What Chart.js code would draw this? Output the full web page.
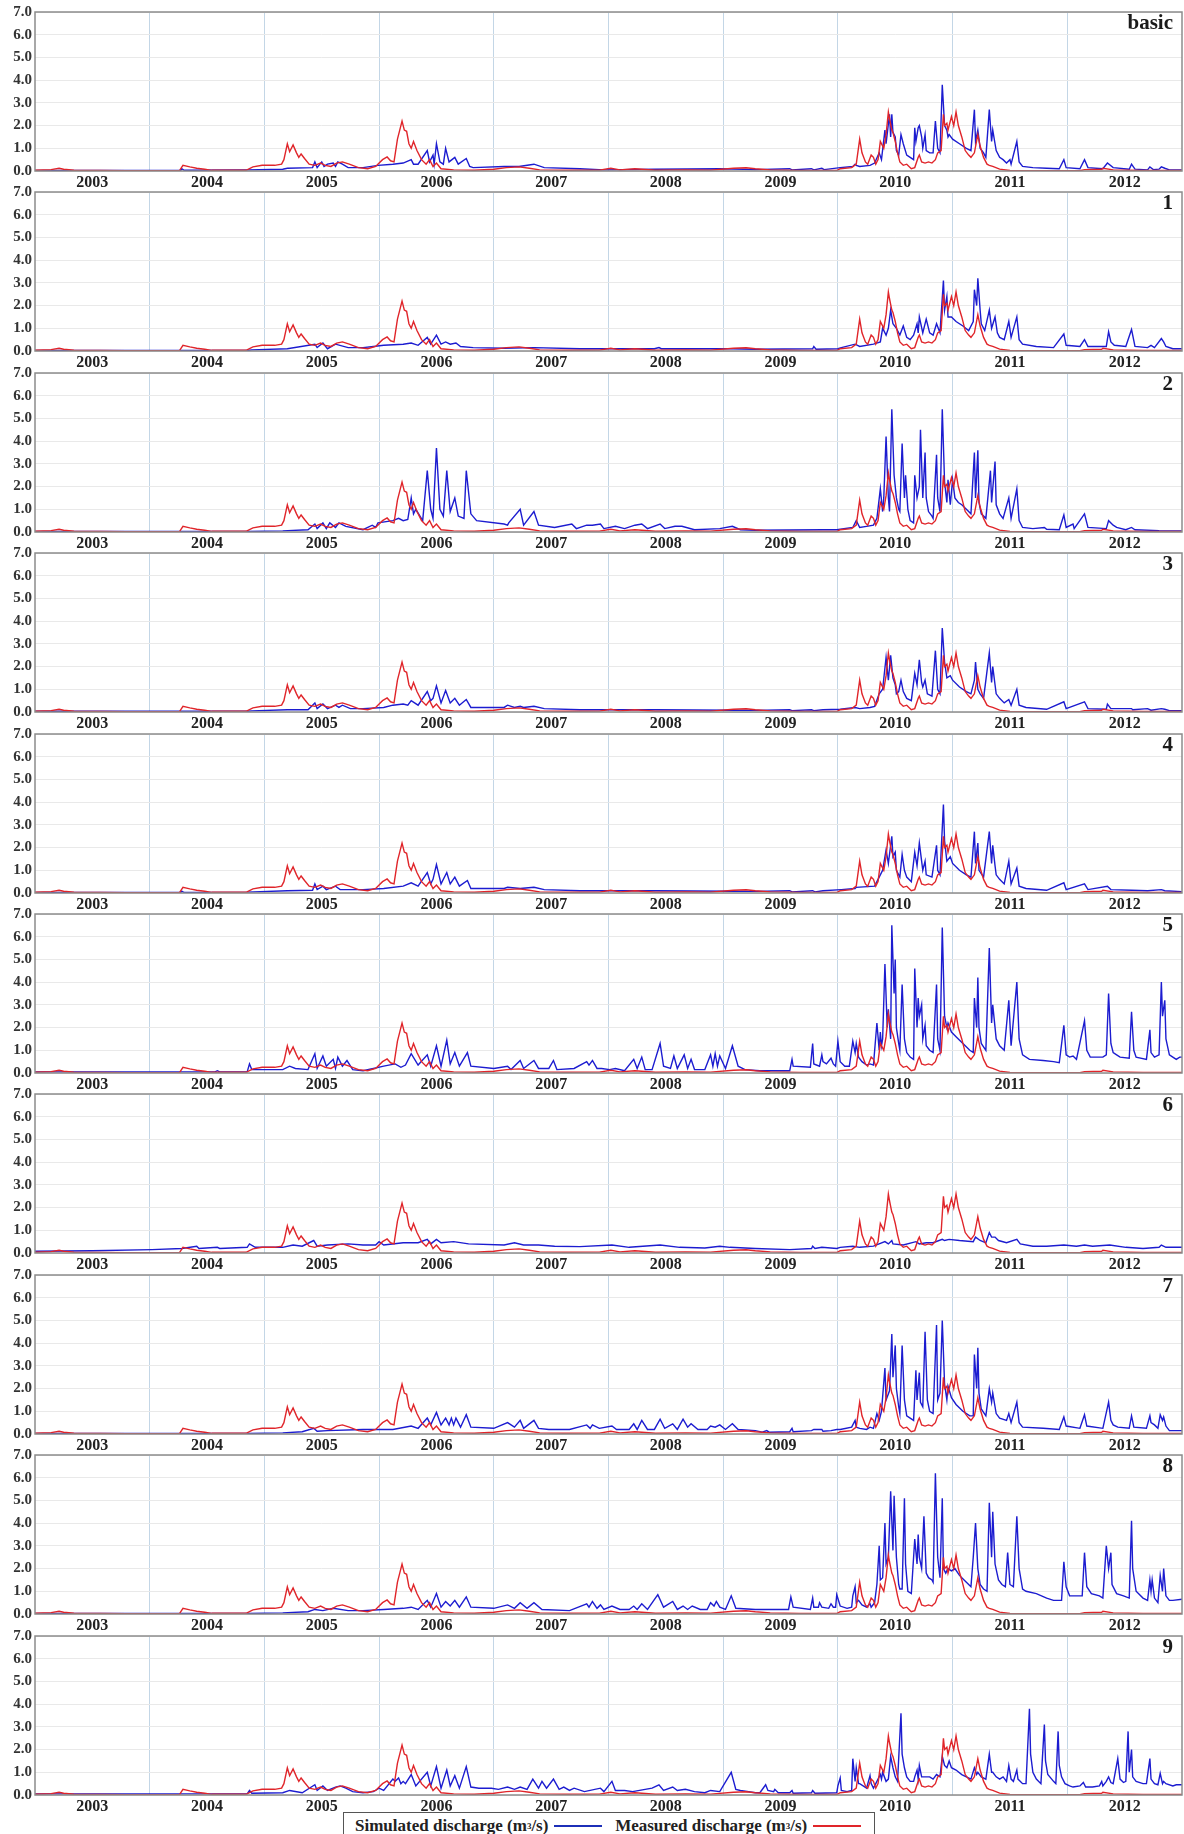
<!DOCTYPE html>
<html>
<head>
<meta charset="utf-8">
<script src="https://cdn.jsdelivr.net/npm/chart.js@4/dist/chart.umd.min.js"></script>
<style>
    body { margin: 0; background: #fff; width: 1184px; height: 1834px; position: relative; overflow: hidden; font-family: "Liberation Serif", "Times New Roman", serif; }
    .panel { position: absolute; left: 0; width: 1184px; height: 196px; }
    .legend { position: absolute; left: 343px; top: 1812px; width: 532px; height: 26px; border: 1.5px solid #555; border-bottom: none; box-sizing: border-box; background: #fff;
              font-weight: bold; font-size: 17px; line-height: 20px; color: #222; display: flex; align-items: center; padding-left: 11px; padding-top: 1px; white-space: nowrap; }
    .legend sup { font-size: 9px; line-height: 0; }
    .legend .ln { display: inline-block; width: 56px; height: 2px; margin: 0 13px 0 6px; }
</style>
</head>
<body>
<div id="panels"></div>
<div class="legend">
    Simulated discharge (m<sup>3</sup>/s)<span class="ln" style="background:#1c2fb8"></span>
    Measured discharge (m<sup>3</sup>/s)<span class="ln" style="background:#e0252a"></span>
</div>
<script>
const years = [2003, 2004, 2005, 2006, 2007, 2008, 2009, 2010, 2011, 2012];
const yTicks = [0, 1, 2, 3, 4, 5, 6, 7];
const panelNames = ['basic', '1', '2', '3', '4', '5', '6', '7', '8', '9'];

// measured discharge [year, m3/s] - same in every panel
const measured = [[2003.00,0.03],[2003.14,0.06],[2003.21,0.12],[2003.25,0.08],[2003.34,0.03],[2003.80,0.01],[2004.26,0.02],[2004.29,0.25],[2004.35,0.18],[2004.41,0.12],[2004.48,0.08],[2004.54,0.03],[2004.84,0.03],[2004.90,0.18],[2004.98,0.25],[2005.09,0.25],[2005.15,0.3],[2005.17,0.5],[2005.20,1.2],[2005.22,0.85],[2005.25,1.15],[2005.28,0.8],[2005.30,0.6],[2005.32,0.75],[2005.35,0.55],[2005.39,0.3],[2005.44,0.25],[2005.49,0.35],[2005.53,0.25],[2005.58,0.2],[2005.63,0.35],[2005.68,0.4],[2005.74,0.3],[2005.82,0.15],[2005.90,0.1],[2005.97,0.2],[2006.03,0.5],[2006.07,0.62],[2006.10,0.45],[2006.13,0.4],[2006.16,1.4],[2006.18,1.8],[2006.20,2.2],[2006.22,1.8],[2006.24,1.75],[2006.26,1.2],[2006.28,1.0],[2006.30,1.3],[2006.33,0.9],[2006.37,0.5],[2006.41,0.3],[2006.44,0.5],[2006.47,0.2],[2006.50,0.35],[2006.54,0.1],[2006.65,0.05],[2006.83,0.03],[2007.00,0.08],[2007.11,0.15],[2007.22,0.18],[2007.31,0.12],[2007.40,0.05],[2007.62,0.03],[2007.92,0.04],[2008.02,0.12],[2008.10,0.05],[2008.23,0.1],[2008.41,0.03],[2008.67,0.05],[2008.89,0.04],[2009.09,0.12],[2009.20,0.14],[2009.28,0.1],
[2009.41,0.05],[2009.67,0.02],[2009.99,0.02],[2010.02,0.1],[2010.12,0.15],[2010.16,0.3],[2010.19,1.4],[2010.21,0.8],[2010.24,0.4],[2010.26,0.3],[2010.29,0.7],[2010.31,0.6],[2010.33,0.3],[2010.35,0.5],[2010.37,1.3],[2010.40,1.0],[2010.42,1.6],[2010.44,2.6],[2010.45,2.3],[2010.47,1.8],[2010.48,1.7],[2010.50,1.3],[2010.52,0.8],[2010.54,0.4],[2010.57,0.25],[2010.60,0.3],[2010.64,0.1],[2010.67,0.15],[2010.70,0.6],[2010.71,0.7],[2010.73,0.4],[2010.76,0.35],[2010.79,0.4],[2010.82,0.35],[2010.85,0.5],[2010.87,0.8],[2010.90,0.9],[2010.92,2.5],[2010.93,2.0],[2010.95,2.1],[2010.96,1.8],[2010.99,2.4],[2011.01,2.0],[2011.03,2.6],[2011.05,2.0],[2011.08,1.5],[2011.11,0.9],[2011.14,0.7],[2011.16,0.6],[2011.19,0.8],[2011.22,1.6],[2011.24,1.1],[2011.27,0.6],[2011.30,0.3],[2011.32,0.25],[2011.35,0.2],[2011.41,0.08],[2011.50,0.02],[2012.11,0.01],[2012.15,0.06],[2012.30,0.08],[2012.31,0.12],[2012.40,0.05],[2012.66,0.02],[2013.0,0.02]];

// simulated discharge per scenario [year, m3/s]
const simBasic = [[2003.0,0.02],[2004.27,0.02],[2004.28,0.1],[2004.30,0.03],[2004.85,0.05],[2005.16,0.08],[2005.20,0.12],[2005.42,0.15],[2005.44,0.4],[2005.46,0.15],[2005.50,0.4],[2005.52,0.2],[2005.55,0.3],[2005.60,0.35],[2005.62,0.2],[2005.64,0.4],[2005.68,0.3],[2005.73,0.15],[2005.86,0.15],[2005.99,0.25],[2006.12,0.3],[2006.21,0.35],[2006.28,0.5],[2006.30,0.3],[2006.34,0.3],[2006.42,0.9],[2006.44,0.4],[2006.47,0.7],[2006.48,0.3],[2006.50,1.2],[2006.53,0.4],[2006.56,0.3],[2006.58,1.0],[2006.61,0.4],[2006.66,0.6],[2006.69,0.3],[2006.76,0.55],[2006.79,0.2],[2006.82,0.15],[2007.09,0.2],[2007.22,0.2],[2007.35,0.3],[2007.44,0.15],[2007.75,0.1],[2007.96,0.05],[2008.40,0.08],[2008.97,0.1],[2009.28,0.06],
[2009.58,0.1],[2009.60,0.05],[2009.77,0.1],[2009.79,0.05],[2009.86,0.12],[2009.88,0.06],[2010.02,0.15],[2010.13,0.2],[2010.15,0.3],[2010.16,0.25],[2010.19,0.2],[2010.28,0.25],[2010.32,0.35],[2010.36,0.8],[2010.38,0.5],[2010.41,1.8],[2010.42,1.2],[2010.45,2.5],[2010.46,1.5],[2010.47,2.5],[2010.48,1.7],[2010.50,1.5],[2010.51,0.9],[2010.53,0.7],[2010.55,1.6],[2010.57,1.2],[2010.60,0.7],[2010.63,0.6],[2010.66,0.5],[2010.67,1.9],[2010.68,1.3],[2010.70,1.9],[2010.71,2.0],[2010.73,1.5],[2010.74,1.0],[2010.76,1.6],[2010.77,0.9],[2010.80,0.8],[2010.83,0.8],[2010.85,2.2],[2010.87,1.0],[2010.89,0.8],[2010.91,3.8],[2010.93,2.0],[2010.95,1.8],[2010.96,1.5],[2010.97,1.6],[2011.0,1.4],[2011.06,1.2],[2011.12,1.0],[2011.16,0.9],[2011.19,2.7],[2011.20,1.3],[2011.22,1.8],[2011.24,1.0],[2011.27,0.8],[2011.29,0.6],[2011.32,2.7],[2011.34,1.3],[2011.35,1.8],[2011.37,1.2],[2011.38,0.9],[2011.41,0.6],[2011.44,0.5],[2011.47,0.35],[2011.50,0.5],[2011.51,0.3],[2011.56,1.3],[2011.58,0.4],[2011.61,0.2],[2011.70,0.15],[2011.82,0.12],[2011.93,0.1],[2011.97,0.5],[2011.99,0.15],[2012.11,0.1],[2012.15,0.5],[2012.18,0.15],[2012.31,0.1],[2012.35,0.35],[2012.40,0.15],[2012.54,0.08],[2012.56,0.3],[2012.59,0.08],[2012.70,0.05],[2012.72,0.18],[2012.75,0.06],[2012.80,0.08],[2012.82,0.18],[2012.85,0.12],[2012.89,0.05],[2013.0,0.05]];

const sim1 = [[2003.0,0.02],[2004.85,0.02],[2004.89,0.05],[2005.20,0.1],[2005.44,0.3],[2005.46,0.15],[2005.51,0.35],[2005.55,0.1],[2005.62,0.3],[2005.73,0.15],[2005.86,0.15],[2005.95,0.2],[2006.04,0.25],[2006.21,0.3],[2006.28,0.35],[2006.34,0.25],[2006.42,0.6],[2006.45,0.3],[2006.50,0.7],[2006.54,0.3],[2006.58,0.4],[2006.62,0.3],[2006.67,0.35],[2006.71,0.2],[2006.82,0.15],[2007.09,0.12],[2007.35,0.15],[2007.75,0.1],[2008.40,0.1],[2008.44,0.15],[2008.46,0.1],[2009.06,0.1],[2009.28,0.08],
[2009.78,0.1],[2009.79,0.2],[2009.81,0.08],[2010.0,0.1],[2010.03,0.15],[2010.15,0.3],[2010.19,0.2],[2010.31,0.3],[2010.37,0.4],[2010.39,1.0],[2010.42,0.7],[2010.44,1.0],[2010.46,1.8],[2010.48,1.2],[2010.51,1.0],[2010.54,0.7],[2010.57,1.1],[2010.60,0.6],[2010.63,0.5],[2010.66,0.7],[2010.69,1.2],[2010.70,0.8],[2010.71,1.5],[2010.74,0.8],[2010.77,1.4],[2010.80,0.8],[2010.83,0.7],[2010.86,1.2],[2010.89,0.8],[2010.92,3.1],[2010.93,1.8],[2010.95,2.4],[2010.96,1.5],[2010.99,1.5],[2011.03,1.3],[2011.09,1.1],[2011.14,0.9],[2011.18,1.3],[2011.19,2.7],[2011.21,2.0],[2011.22,3.2],[2011.24,1.8],[2011.25,1.2],[2011.28,0.9],[2011.32,1.8],[2011.34,1.0],[2011.37,1.5],[2011.39,0.8],[2011.41,0.6],[2011.45,0.5],[2011.49,1.3],[2011.51,0.6],[2011.56,1.5],[2011.58,0.5],[2011.61,0.3],[2011.73,0.2],[2011.88,0.15],[2011.97,0.75],[2011.99,0.25],[2012.11,0.2],[2012.15,0.5],[2012.18,0.2],[2012.34,0.2],[2012.36,0.85],[2012.38,0.4],[2012.41,0.25],[2012.51,0.2],[2012.56,0.95],[2012.59,0.2],[2012.70,0.15],[2012.73,0.25],[2012.76,0.15],[2012.82,0.55],[2012.84,0.4],[2012.86,0.2],[2012.92,0.1],[2013.0,0.1]];

const sim2 = [[2003.0,0.02],[2004.85,0.02],[2005.16,0.05],[2005.38,0.1],[2005.44,0.35],[2005.46,0.15],[2005.51,0.4],[2005.54,0.15],[2005.57,0.4],[2005.62,0.2],[2005.65,0.4],[2005.71,0.25],[2005.86,0.1],[2005.94,0.3],[2005.97,0.2],[2005.99,0.4],[2006.12,0.5],[2006.17,0.6],[2006.21,0.5],[2006.25,0.55],[2006.28,1.5],[2006.30,0.8],[2006.32,1.0],[2006.38,0.5],[2006.42,2.7],[2006.45,1.0],[2006.47,0.6],[2006.50,3.7],[2006.53,1.0],[2006.56,0.7],[2006.59,2.7],[2006.62,0.9],[2006.66,1.5],[2006.69,0.7],[2006.74,0.6],[2006.76,2.7],[2006.80,0.8],[2006.85,0.5],[2007.09,0.35],[2007.12,0.3],[2007.13,0.4],[2007.23,1.0],[2007.26,0.3],[2007.35,0.9],[2007.39,0.3],[2007.53,0.2],[2007.68,0.35],[2007.72,0.15],[2007.81,0.3],[2007.86,0.3],[2007.93,0.35],[2007.96,0.15],[2008.06,0.25],[2008.14,0.15],[2008.23,0.3],[2008.29,0.35],[2008.34,0.15],[2008.45,0.35],[2008.49,0.15],[2008.58,0.25],[2008.64,0.25],[2008.75,0.1],[2008.97,0.15],[2009.08,0.25],[2009.15,0.1],[2009.28,0.08],
[2009.87,0.1],[2009.99,0.1],[2010.13,0.2],[2010.16,0.5],[2010.19,0.2],[2010.25,0.25],[2010.31,0.3],[2010.34,0.6],[2010.37,1.9],[2010.39,0.9],[2010.40,1.5],[2010.42,4.2],[2010.44,1.5],[2010.45,0.9],[2010.47,5.4],[2010.49,2.5],[2010.51,1.5],[2010.53,1.0],[2010.54,0.9],[2010.56,3.9],[2010.58,1.5],[2010.59,2.5],[2010.61,1.0],[2010.63,0.5],[2010.66,0.4],[2010.67,2.5],[2010.69,1.5],[2010.71,2.0],[2010.72,4.5],[2010.74,1.5],[2010.76,3.5],[2010.77,1.5],[2010.79,0.9],[2010.82,0.7],[2010.83,0.6],[2010.86,3.4],[2010.87,1.5],[2010.89,0.9],[2010.91,5.4],[2010.93,2.2],[2010.95,1.3],[2010.96,2.3],[2010.98,1.2],[2011.0,2.3],[2011.02,1.5],[2011.05,1.3],[2011.08,1.2],[2011.12,1.0],[2011.16,0.8],[2011.19,3.5],[2011.20,1.5],[2011.22,3.6],[2011.23,1.3],[2011.25,0.8],[2011.29,0.6],[2011.33,2.7],[2011.34,1.3],[2011.37,3.1],[2011.38,1.2],[2011.41,0.8],[2011.44,0.6],[2011.49,1.5],[2011.51,0.6],[2011.56,1.9],[2011.58,0.5],[2011.61,0.2],[2011.70,0.15],[2011.80,0.2],[2011.82,0.12],[2011.93,0.1],[2011.97,0.75],[2011.99,0.2],[2012.05,0.35],[2012.06,0.15],[2012.15,0.8],[2012.18,0.2],[2012.34,0.15],[2012.36,0.5],[2012.40,0.3],[2012.43,0.2],[2012.51,0.1],[2012.56,0.2],[2012.59,0.1],[2012.80,0.06],[2013.0,0.05]];

const sim3 = [[2003.0,0.03],[2004.85,0.03],[2004.89,0.05],[2005.20,0.1],[2005.38,0.1],[2005.44,0.4],[2005.46,0.15],[2005.51,0.35],[2005.55,0.15],[2005.62,0.3],[2005.65,0.2],[2005.68,0.3],[2005.75,0.15],[2005.86,0.15],[2006.04,0.2],[2006.12,0.3],[2006.21,0.35],[2006.25,0.3],[2006.28,0.5],[2006.34,0.3],[2006.42,0.9],[2006.45,0.5],[2006.47,0.6],[2006.50,1.15],[2006.54,0.4],[2006.58,0.95],[2006.62,0.4],[2006.66,0.6],[2006.70,0.3],[2006.76,0.55],[2006.80,0.2],[2007.09,0.2],[2007.12,0.3],[2007.18,0.2],[2007.23,0.25],[2007.26,0.2],[2007.35,0.25],[2007.44,0.15],[2007.75,0.1],[2008.40,0.1],[2009.06,0.08],[2009.28,0.07],
[2009.58,0.1],[2009.60,0.06],[2009.77,0.1],[2009.79,0.06],[2009.87,0.1],[2010.02,0.12],[2010.15,0.2],[2010.19,0.15],[2010.28,0.2],[2010.32,0.25],[2010.36,0.8],[2010.39,1.0],[2010.42,2.4],[2010.44,1.4],[2010.46,2.5],[2010.48,1.5],[2010.50,1.2],[2010.51,0.8],[2010.53,0.9],[2010.55,1.4],[2010.57,0.9],[2010.60,0.6],[2010.64,0.5],[2010.67,1.7],[2010.69,1.2],[2010.71,2.3],[2010.73,1.3],[2010.74,1.1],[2010.76,1.4],[2010.78,0.8],[2010.82,0.7],[2010.85,2.7],[2010.87,1.0],[2010.89,0.8],[2010.91,3.7],[2010.93,2.2],[2010.95,1.5],[2010.98,1.6],[2011.0,1.4],[2011.06,1.1],[2011.12,0.9],[2011.16,0.8],[2011.19,1.4],[2011.20,2.2],[2011.22,1.0],[2011.24,0.8],[2011.27,0.6],[2011.32,2.6],[2011.34,1.3],[2011.35,2.0],[2011.37,1.2],[2011.38,0.8],[2011.41,0.6],[2011.45,0.4],[2011.49,0.55],[2011.51,0.3],[2011.56,1.0],[2011.58,0.3],[2011.64,0.2],[2011.82,0.12],[2011.97,0.45],[2011.99,0.15],[2012.15,0.45],[2012.18,0.15],[2012.34,0.12],[2012.35,0.35],[2012.38,0.15],[2012.56,0.15],[2012.57,0.1],[2012.70,0.15],[2012.73,0.08],[2012.82,0.15],[2012.85,0.12],[2012.89,0.06],[2013.0,0.06]];

const sim4 = [[2003.0,0.02],[2004.27,0.02],[2004.28,0.08],[2004.30,0.02],[2004.85,0.04],[2005.20,0.1],[2005.42,0.12],[2005.44,0.4],[2005.46,0.15],[2005.51,0.3],[2005.54,0.15],[2005.62,0.3],[2005.66,0.15],[2005.86,0.15],[2006.04,0.2],[2006.21,0.3],[2006.28,0.45],[2006.34,0.3],[2006.42,0.9],[2006.45,0.4],[2006.47,0.6],[2006.50,1.25],[2006.54,0.4],[2006.59,0.9],[2006.62,0.4],[2006.66,0.7],[2006.70,0.3],[2006.77,0.55],[2006.80,0.2],[2007.09,0.2],[2007.12,0.25],[2007.23,0.2],[2007.35,0.25],[2007.44,0.15],[2007.75,0.1],[2008.40,0.1],[2009.06,0.08],[2009.28,0.07],
[2009.58,0.1],[2009.60,0.05],[2009.78,0.1],[2009.80,0.05],[2009.87,0.1],[2010.03,0.15],[2010.15,0.2],[2010.16,0.25],[2010.32,0.3],[2010.36,0.7],[2010.39,1.0],[2010.42,1.9],[2010.44,1.3],[2010.47,2.5],[2010.48,1.6],[2010.50,1.8],[2010.51,1.0],[2010.54,0.7],[2010.56,1.7],[2010.58,1.0],[2010.60,0.7],[2010.64,0.5],[2010.67,1.8],[2010.69,1.2],[2010.71,2.2],[2010.73,1.4],[2010.74,1.0],[2010.76,1.4],[2010.77,0.8],[2010.82,0.7],[2010.86,2.1],[2010.87,1.0],[2010.89,0.8],[2010.92,3.9],[2010.93,2.3],[2010.95,1.4],[2010.98,1.6],[2011.0,1.3],[2011.06,1.0],[2011.12,0.8],[2011.16,0.7],[2011.19,2.7],[2011.20,1.3],[2011.22,2.2],[2011.23,1.0],[2011.27,0.7],[2011.32,2.7],[2011.34,1.3],[2011.35,2.1],[2011.37,1.2],[2011.38,0.8],[2011.41,0.6],[2011.45,0.4],[2011.49,1.4],[2011.51,0.4],[2011.56,1.1],[2011.58,0.3],[2011.64,0.2],[2011.82,0.12],[2011.97,0.45],[2011.99,0.15],[2012.15,0.4],[2012.18,0.15],[2012.35,0.3],[2012.38,0.15],[2012.56,0.12],[2012.70,0.1],[2012.82,0.15],[2012.85,0.1],[2013.0,0.06]];

const sim5 = [[2003.0,0.05],[2004.57,0.05],[2004.59,0.1],[2004.61,0.05],[2004.85,0.05],[2004.87,0.4],[2004.89,0.15],[2005.16,0.15],[2005.22,0.3],[2005.27,0.2],[2005.38,0.15],[2005.44,0.85],[2005.46,0.2],[2005.51,0.75],[2005.54,0.3],[2005.60,0.6],[2005.62,0.2],[2005.64,0.7],[2005.68,0.3],[2005.72,0.55],[2005.77,0.15],[2005.86,0.1],[2005.95,0.2],[2006.04,0.3],[2006.14,0.4],[2006.19,0.25],[2006.23,0.35],[2006.28,0.85],[2006.34,0.35],[2006.42,0.8],[2006.45,0.3],[2006.50,1.2],[2006.54,0.3],[2006.59,1.45],[2006.62,0.4],[2006.66,0.9],[2006.70,0.3],[2006.77,0.9],[2006.80,0.3],[2007.0,0.2],[2007.12,0.3],[2007.15,0.15],[2007.23,0.55],[2007.26,0.2],[2007.35,0.55],[2007.39,0.2],[2007.48,0.2],[2007.52,0.55],[2007.55,0.15],[2007.70,0.2],[2007.81,0.5],[2007.83,0.35],[2007.86,0.55],[2007.90,0.2],[2007.94,0.2],[2008.01,0.15],[2008.06,0.2],[2008.14,0.1],[2008.22,0.6],[2008.25,0.2],[2008.29,0.7],[2008.32,0.15],[2008.38,0.15],[2008.45,1.3],[2008.48,0.3],[2008.54,0.2],[2008.57,0.75],[2008.60,0.2],[2008.66,0.8],[2008.69,0.2],[2008.72,0.6],[2008.75,0.15],[2008.84,0.15],[2008.89,0.8],[2008.91,0.3],[2008.93,0.85],[2008.95,0.3],[2008.97,0.75],[2009.02,0.2],[2009.08,1.2],[2009.13,0.3],[2009.19,0.15],[2009.32,0.1],
[2009.58,0.1],[2009.60,0.6],[2009.61,0.3],[2009.76,0.25],[2009.78,1.3],[2009.79,0.4],[2009.84,0.3],[2009.86,0.8],[2009.87,0.5],[2009.90,0.4],[2009.94,0.65],[2009.96,0.4],[2009.98,0.3],[2010.0,1.4],[2010.02,0.5],[2010.06,0.3],[2010.10,0.3],[2010.13,1.4],[2010.15,0.9],[2010.16,1.3],[2010.18,0.7],[2010.21,0.5],[2010.25,0.35],[2010.28,0.4],[2010.31,0.35],[2010.34,2.2],[2010.36,1.0],[2010.37,1.8],[2010.38,1.2],[2010.39,1.5],[2010.41,4.8],[2010.43,2.0],[2010.44,2.8],[2010.46,1.5],[2010.47,6.5],[2010.49,3.5],[2010.50,5.0],[2010.51,2.0],[2010.53,1.3],[2010.54,1.0],[2010.56,3.9],[2010.58,1.5],[2010.60,0.9],[2010.63,0.7],[2010.66,0.6],[2010.67,4.6],[2010.69,2.0],[2010.70,3.3],[2010.71,2.5],[2010.73,3.0],[2010.74,1.5],[2010.76,2.1],[2010.77,1.2],[2010.80,1.0],[2010.83,0.9],[2010.86,3.9],[2010.87,1.5],[2010.89,1.0],[2010.91,6.4],[2010.93,2.5],[2010.95,2.0],[2010.96,2.2],[2010.99,1.8],[2011.03,1.6],[2011.09,1.3],[2011.15,1.0],[2011.18,0.9],[2011.19,3.3],[2011.21,2.0],[2011.22,4.2],[2011.23,2.0],[2011.25,1.3],[2011.29,1.0],[2011.32,5.5],[2011.34,2.2],[2011.35,3.0],[2011.38,1.5],[2011.41,1.2],[2011.45,1.0],[2011.49,3.2],[2011.51,1.2],[2011.56,4.0],[2011.58,1.5],[2011.61,0.8],[2011.67,0.6],[2011.79,0.55],[2011.88,0.5],[2011.93,0.45],[2011.97,2.1],[2011.99,0.8],[2012.02,0.7],[2012.05,0.75],[2012.08,0.6],[2012.15,2.3],[2012.17,1.0],[2012.20,0.7],[2012.31,0.7],[2012.34,0.8],[2012.36,3.5],[2012.38,1.3],[2012.40,0.9],[2012.43,0.8],[2012.46,0.7],[2012.54,0.65],[2012.56,2.7],[2012.58,1.0],[2012.60,0.7],[2012.69,0.6],[2012.72,1.9],[2012.73,0.9],[2012.76,0.7],[2012.80,0.8],[2012.82,4.0],[2012.83,2.5],[2012.85,3.2],[2012.86,1.5],[2012.89,0.8],[2012.92,0.7],[2012.95,0.6],[2012.98,0.7],[2013.0,0.7]];

const sim6 = [[2003.0,0.08],[2003.5,0.1],[2004.02,0.15],[2004.28,0.2],[2004.41,0.3],[2004.43,0.2],[2004.59,0.25],[2004.61,0.2],[2004.85,0.25],[2004.87,0.4],[2004.92,0.25],[2005.16,0.25],[2005.25,0.35],[2005.33,0.3],[2005.43,0.55],[2005.46,0.3],[2005.55,0.35],[2005.73,0.4],[2005.86,0.35],[2005.97,0.35],[2006.0,0.5],[2006.04,0.35],[2006.21,0.45],[2006.34,0.45],[2006.42,0.6],[2006.45,0.4],[2006.50,0.6],[2006.54,0.45],[2006.65,0.5],[2006.78,0.4],[2007.09,0.35],[2007.18,0.45],[2007.26,0.35],[2007.39,0.35],[2007.53,0.3],[2007.75,0.28],[2008.03,0.35],[2008.18,0.25],[2008.45,0.35],[2008.62,0.25],[2008.84,0.22],[2008.97,0.3],[2009.06,0.25],[2009.28,0.2],
[2009.58,0.15],[2009.77,0.2],[2009.78,0.3],[2009.80,0.2],[2009.86,0.25],[2009.99,0.2],[2010.02,0.25],[2010.13,0.3],[2010.19,0.25],[2010.31,0.3],[2010.41,0.5],[2010.44,0.4],[2010.47,0.55],[2010.48,0.4],[2010.57,0.35],[2010.68,0.5],[2010.71,0.4],[2010.77,0.45],[2010.83,0.45],[2010.91,0.6],[2010.93,0.55],[2010.97,0.6],[2011.06,0.55],[2011.18,0.5],[2011.20,0.7],[2011.24,0.55],[2011.29,0.45],[2011.32,0.9],[2011.34,0.7],[2011.37,0.7],[2011.40,0.55],[2011.47,0.45],[2011.56,0.6],[2011.59,0.4],[2011.70,0.3],[2011.82,0.3],[2011.97,0.35],[2012.08,0.3],[2012.15,0.35],[2012.22,0.3],[2012.37,0.35],[2012.51,0.25],[2012.66,0.2],[2012.80,0.25],[2012.82,0.35],[2012.86,0.25],[2013.0,0.25]];

const sim7 = [[2003.0,0.02],[2004.85,0.02],[2005.16,0.05],[2005.33,0.1],[2005.43,0.25],[2005.46,0.12],[2005.55,0.15],[2005.86,0.2],[2006.12,0.2],[2006.28,0.35],[2006.34,0.25],[2006.42,0.7],[2006.45,0.4],[2006.50,0.95],[2006.54,0.4],[2006.58,0.7],[2006.61,0.4],[2006.63,0.7],[2006.65,0.4],[2006.67,0.7],[2006.71,0.3],[2006.76,0.85],[2006.80,0.3],[2007.0,0.25],[2007.12,0.5],[2007.18,0.3],[2007.23,0.6],[2007.26,0.25],[2007.35,0.6],[2007.39,0.25],[2007.48,0.2],[2007.66,0.2],[2007.81,0.4],[2007.84,0.25],[2007.86,0.4],[2007.92,0.25],[2008.03,0.35],[2008.07,0.2],[2008.18,0.2],[2008.22,0.45],[2008.25,0.2],[2008.29,0.6],[2008.34,0.2],[2008.40,0.2],[2008.45,0.65],[2008.49,0.25],[2008.56,0.45],[2008.60,0.2],[2008.65,0.65],[2008.69,0.3],[2008.72,0.45],[2008.78,0.2],[2008.86,0.2],[2008.89,0.35],[2008.93,0.3],[2008.97,0.4],[2009.02,0.2],[2009.08,0.45],[2009.13,0.2],[2009.28,0.15],
[2009.34,0.08],[2009.38,0.15],[2009.40,0.08],[2009.58,0.1],[2009.60,0.25],[2009.61,0.1],[2009.77,0.15],[2009.79,0.2],[2009.86,0.2],[2009.87,0.12],[2009.94,0.15],[2009.99,0.2],[2010.02,0.2],[2010.12,0.3],[2010.15,0.6],[2010.16,0.3],[2010.19,0.25],[2010.25,0.2],[2010.28,0.3],[2010.31,0.25],[2010.34,0.9],[2010.36,0.6],[2010.38,1.0],[2010.41,2.9],[2010.42,1.5],[2010.45,1.9],[2010.47,4.4],[2010.48,2.5],[2010.50,3.9],[2010.51,2.0],[2010.53,1.2],[2010.54,0.9],[2010.56,3.9],[2010.58,1.5],[2010.60,0.8],[2010.63,0.7],[2010.66,0.6],[2010.68,2.8],[2010.69,1.5],[2010.71,2.7],[2010.72,1.4],[2010.74,1.2],[2010.76,4.5],[2010.78,1.5],[2010.80,1.0],[2010.83,0.9],[2010.86,4.8],[2010.87,1.5],[2010.89,1.8],[2010.91,5.0],[2010.93,2.2],[2010.95,1.5],[2010.96,2.1],[2010.99,1.6],[2011.03,1.3],[2011.09,1.0],[2011.15,0.8],[2011.18,0.8],[2011.19,3.5],[2011.21,2.0],[2011.22,3.8],[2011.23,1.8],[2011.25,1.1],[2011.29,0.8],[2011.32,2.0],[2011.34,1.4],[2011.35,1.8],[2011.37,1.2],[2011.38,0.9],[2011.41,0.7],[2011.47,0.6],[2011.49,0.9],[2011.51,0.5],[2011.56,1.4],[2011.58,0.5],[2011.61,0.3],[2011.79,0.25],[2011.93,0.2],[2011.97,0.75],[2011.99,0.35],[2012.11,0.25],[2012.15,0.85],[2012.17,0.35],[2012.31,0.25],[2012.36,1.4],[2012.38,0.6],[2012.40,0.4],[2012.44,0.3],[2012.54,0.25],[2012.56,0.8],[2012.58,0.3],[2012.69,0.25],[2012.72,0.8],[2012.73,0.5],[2012.76,0.4],[2012.79,0.25],[2012.81,0.85],[2012.83,0.6],[2012.84,0.75],[2012.86,0.35],[2012.89,0.15],[2013.0,0.15]];

const sim8 = [[2003.0,0.02],[2004.85,0.02],[2005.16,0.05],[2005.38,0.1],[2005.44,0.2],[2005.51,0.15],[2005.60,0.25],[2005.73,0.15],[2005.86,0.15],[2006.04,0.2],[2006.21,0.25],[2006.28,0.3],[2006.34,0.2],[2006.42,0.6],[2006.45,0.3],[2006.50,0.9],[2006.54,0.3],[2006.58,0.55],[2006.62,0.35],[2006.66,0.6],[2006.70,0.3],[2006.76,0.75],[2006.80,0.3],[2007.0,0.25],[2007.12,0.4],[2007.18,0.25],[2007.23,0.5],[2007.29,0.25],[2007.35,0.5],[2007.42,0.2],[2007.66,0.15],[2007.81,0.45],[2007.83,0.3],[2007.86,0.55],[2007.90,0.25],[2007.93,0.4],[2007.96,0.2],[2008.03,0.35],[2008.10,0.2],[2008.18,0.2],[2008.22,0.35],[2008.25,0.2],[2008.29,0.45],[2008.34,0.2],[2008.43,0.85],[2008.48,0.3],[2008.56,0.55],[2008.60,0.2],[2008.65,0.35],[2008.69,0.2],[2008.73,0.35],[2008.80,0.2],[2008.86,0.2],[2008.89,0.5],[2008.92,0.35],[2008.94,0.55],[2008.97,0.3],[2009.02,0.2],[2009.07,0.8],[2009.11,0.25],[2009.28,0.2],
[2009.57,0.2],[2009.59,0.75],[2009.61,0.3],[2009.76,0.2],[2009.78,0.7],[2009.79,0.3],[2009.83,0.3],[2009.84,0.5],[2009.86,0.3],[2009.92,0.25],[2009.94,0.45],[2009.96,0.3],[2009.98,0.3],[2009.99,0.85],[2010.02,0.35],[2010.08,0.25],[2010.12,0.3],[2010.13,0.8],[2010.15,1.2],[2010.16,0.5],[2010.18,0.6],[2010.21,0.4],[2010.25,0.3],[2010.28,0.45],[2010.29,0.3],[2010.32,0.5],[2010.34,1.3],[2010.36,3.0],[2010.37,1.5],[2010.39,1.6],[2010.41,4.0],[2010.42,2.2],[2010.44,2.5],[2010.46,5.4],[2010.48,2.8],[2010.49,5.2],[2010.51,2.5],[2010.53,1.3],[2010.54,1.1],[2010.56,1.1],[2010.58,5.1],[2010.59,2.2],[2010.61,1.0],[2010.64,0.9],[2010.67,3.3],[2010.69,2.2],[2010.70,3.5],[2010.71,2.5],[2010.73,2.0],[2010.75,4.3],[2010.77,1.8],[2010.79,1.6],[2010.82,1.5],[2010.83,1.4],[2010.85,6.2],[2010.87,2.5],[2010.89,1.6],[2010.91,5.1],[2010.92,2.0],[2010.94,1.8],[2010.96,2.0],[2010.99,1.9],[2011.02,2.0],[2011.06,1.7],[2011.12,1.4],[2011.16,1.2],[2011.18,2.5],[2011.20,4.0],[2011.22,2.0],[2011.24,1.3],[2011.27,1.1],[2011.30,1.0],[2011.32,4.9],[2011.34,2.5],[2011.35,4.5],[2011.37,2.2],[2011.40,1.5],[2011.43,1.3],[2011.46,1.2],[2011.48,2.7],[2011.50,1.3],[2011.53,1.2],[2011.56,4.3],[2011.58,2.0],[2011.61,1.1],[2011.64,1.0],[2011.73,0.9],[2011.82,0.7],[2011.88,0.6],[2011.95,0.6],[2011.97,2.3],[2011.99,1.2],[2012.02,0.8],[2012.08,0.8],[2012.13,0.8],[2012.15,2.7],[2012.17,1.2],[2012.21,0.9],[2012.28,0.8],[2012.31,0.7],[2012.34,3.0],[2012.36,2.0],[2012.38,2.7],[2012.39,1.3],[2012.43,0.9],[2012.49,0.8],[2012.54,0.7],[2012.56,4.1],[2012.57,2.0],[2012.60,1.0],[2012.66,0.7],[2012.70,0.6],[2012.72,1.5],[2012.73,1.0],[2012.74,1.5],[2012.76,0.7],[2012.79,0.5],[2012.81,1.7],[2012.83,1.0],[2012.84,2.0],[2012.86,0.8],[2012.89,0.6],[2012.92,0.6],[2013.0,0.65]];

const sim9 = [[2003.0,0.05],[2004.85,0.05],[2004.87,0.2],[2004.89,0.08],[2005.16,0.1],[2005.22,0.2],[2005.33,0.1],[2005.44,0.45],[2005.46,0.2],[2005.51,0.4],[2005.55,0.2],[2005.62,0.35],[2005.66,0.4],[2005.71,0.3],[2005.77,0.15],[2005.86,0.1],[2005.95,0.15],[2006.0,0.3],[2006.04,0.2],[2006.12,0.7],[2006.14,0.6],[2006.17,0.75],[2006.19,0.5],[2006.21,0.6],[2006.23,0.5],[2006.28,0.9],[2006.32,0.4],[2006.42,1.0],[2006.45,0.4],[2006.50,1.25],[2006.54,0.3],[2006.59,1.1],[2006.62,0.4],[2006.66,0.85],[2006.70,0.3],[2006.76,1.25],[2006.80,0.35],[2006.87,0.3],[2006.98,0.3],[2007.04,0.25],[2007.12,0.35],[2007.18,0.25],[2007.23,0.35],[2007.29,0.25],[2007.34,0.7],[2007.39,0.3],[2007.42,0.6],[2007.46,0.3],[2007.52,0.7],[2007.57,0.25],[2007.61,0.35],[2007.66,0.2],[2007.70,0.3],[2007.79,0.15],[2007.93,0.3],[2007.96,0.15],[2008.03,0.6],[2008.06,0.2],[2008.14,0.2],[2008.21,0.15],[2008.38,0.3],[2008.44,0.45],[2008.48,0.2],[2008.56,0.35],[2008.60,0.2],[2008.67,0.25],[2008.75,0.15],[2008.84,0.1],[2008.89,0.2],[2008.97,0.15],[2009.07,1.0],[2009.11,0.25],[2009.15,0.2],[2009.28,0.1],
[2009.32,0.1],[2009.37,0.45],[2009.39,0.2],[2009.44,0.15],[2009.45,0.25],[2009.48,0.1],[2009.58,0.1],[2009.60,0.2],[2009.61,0.08],[2009.77,0.1],[2009.78,0.2],[2009.80,0.08],[2009.99,0.1],[2010.0,0.4],[2010.02,0.75],[2010.03,0.2],[2010.08,0.15],[2010.12,0.2],[2010.13,1.6],[2010.15,0.6],[2010.16,1.2],[2010.18,0.5],[2010.19,0.5],[2010.25,0.3],[2010.28,0.85],[2010.29,0.5],[2010.31,0.3],[2010.34,0.6],[2010.37,0.9],[2010.38,0.7],[2010.39,1.0],[2010.42,0.6],[2010.44,0.7],[2010.46,1.7],[2010.48,1.2],[2010.50,0.8],[2010.52,0.6],[2010.55,3.6],[2010.56,1.8],[2010.58,1.2],[2010.60,0.8],[2010.63,0.6],[2010.66,0.6],[2010.67,0.8],[2010.69,1.1],[2010.70,0.7],[2010.71,1.3],[2010.73,0.8],[2010.76,0.8],[2010.80,0.8],[2010.83,0.7],[2010.86,0.9],[2010.89,0.8],[2010.91,1.7],[2010.93,1.3],[2010.95,1.2],[2010.97,1.5],[2010.99,1.2],[2011.03,1.1],[2011.08,0.9],[2011.12,0.8],[2011.16,0.7],[2011.19,1.2],[2011.21,0.9],[2011.22,1.0],[2011.25,0.8],[2011.29,0.7],[2011.32,1.8],[2011.34,1.0],[2011.35,1.0],[2011.38,0.8],[2011.41,0.7],[2011.44,0.8],[2011.47,0.6],[2011.49,1.3],[2011.51,0.7],[2011.53,0.6],[2011.56,1.1],[2011.57,0.7],[2011.61,0.5],[2011.64,0.5],[2011.67,3.8],[2011.68,1.8],[2011.70,1.0],[2011.73,0.7],[2011.77,0.5],[2011.80,3.1],[2011.81,1.5],[2011.83,0.9],[2011.88,0.6],[2011.90,0.5],[2011.92,2.8],[2011.93,1.3],[2011.95,0.8],[2011.98,0.5],[2012.02,0.4],[2012.05,0.35],[2012.11,0.4],[2012.14,0.55],[2012.16,0.35],[2012.22,0.35],[2012.28,0.4],[2012.30,0.6],[2012.31,0.4],[2012.34,0.6],[2012.36,0.8],[2012.38,0.55],[2012.40,0.5],[2012.44,1.6],[2012.46,0.7],[2012.49,0.55],[2012.51,0.6],[2012.53,2.8],[2012.54,1.0],[2012.56,2.0],[2012.57,0.8],[2012.60,0.6],[2012.66,0.5],[2012.69,0.5],[2012.72,1.6],[2012.73,0.7],[2012.76,0.5],[2012.79,0.45],[2012.81,0.95],[2012.83,0.5],[2012.84,0.6],[2012.86,0.5],[2012.92,0.4],[2012.95,0.45],[2013.0,0.45]];

const simulated = [simBasic, sim1, sim2, sim3, sim4, sim5, sim6, sim7, sim8, sim9];

const serif = '"Liberation Serif", "Times New Roman", serif';
const toXY = arr => arr.map(p => ({ x: p[0], y: p[1] }));

// frame around the plot area + scenario name in the corner
const framePlugin = {
    id: 'frame',
    afterDatasetsDraw(chart, args, opts) {
        const { ctx, chartArea: a } = chart;
        ctx.save();
        ctx.strokeStyle = '#8c8c8c';
        ctx.lineWidth = 1.5;
        ctx.strokeRect(a.left, a.top, a.right - a.left, a.bottom - a.top);
        ctx.fillStyle = '#1a1a1a';
        ctx.font = 'bold 21px ' + serif;
        ctx.textAlign = 'right';
        ctx.textBaseline = 'middle';
        ctx.fillText(opts.name, a.right - 9, a.top + 12);
        ctx.restore();
    }
};

function drawPanel(i) {
    const div = document.createElement('div');
    div.className = 'panel';
    div.style.top = Math.round(i * 180.4) + 'px';
    const canvas = document.createElement('canvas');
    canvas.width = 1184;
    canvas.height = 196;
    div.appendChild(canvas);
    document.getElementById('panels').appendChild(div);

    new Chart(canvas, {
        type: 'line',
        data: {
            datasets: [
                { label: 'Measured discharge', data: toXY(measured), borderColor: '#e0252a', borderWidth: 1.4, pointRadius: 0, order: 0 },
                { label: 'Simulated discharge', data: toXY(simulated[i]), borderColor: '#1c1cd0', borderWidth: 1.4, pointRadius: 0, order: 1 }
            ]
        },
        options: {
            responsive: false,
            animation: false,
            events: [],
            layout: { padding: { top: 12, right: 2, left: 0, bottom: 0 } },
            plugins: { legend: { display: false }, tooltip: { enabled: false }, frame: { name: panelNames[i] } },
            scales: {
                x: {
                    type: 'linear', min: 2003, max: 2013,
                    afterBuildTicks: s => { s.ticks = years.slice(1).map(v => ({ value: v })); },
                    afterFit: s => { s.height = 0; },
                    grid: { color: '#c3d6e6', drawTicks: false },
                    ticks: { display: false },
                    border: { display: false }
                },
                xl: {
                    type: 'linear', axis: 'x', position: 'bottom', min: 2003, max: 2013,
                    afterBuildTicks: s => { s.ticks = years.map(v => ({ value: v + 0.5 })); },
                    afterFit: s => { s.height = 25; },
                    grid: { display: false, drawTicks: false },
                    border: { display: false },
                    ticks: { autoSkip: false, maxRotation: 0, padding: 2, color: '#222', font: { family: serif, size: 16, weight: 'bold' },
                             callback: v => String(Math.floor(v)) }
                },
                y: {
                    min: 0, max: 7,
                    afterBuildTicks: s => { s.ticks = yTicks.map(v => ({ value: v })); },
                    afterFit: s => { s.width = 35; },
                    grid: { color: '#e9e9e9', drawTicks: false },
                    border: { display: false },
                    ticks: { padding: 3, color: '#333', font: { family: serif, size: 15, weight: 'bold' },
                             callback: v => v.toFixed(1) }
                }
            }
        },
        plugins: [framePlugin]
    });
}

for (let i = 0; i < 10; i++) drawPanel(i);
</script>
</body>
</html>
